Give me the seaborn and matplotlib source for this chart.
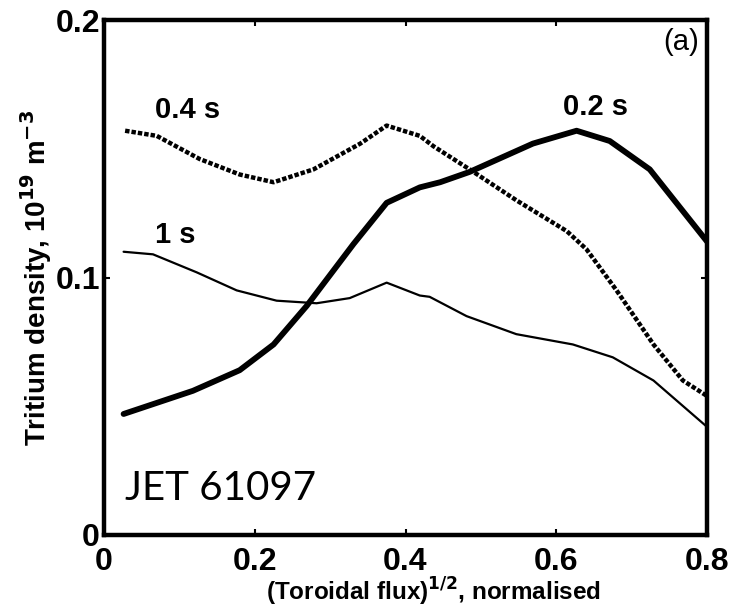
import numpy as np
import pandas as pd
import matplotlib
matplotlib.use("Agg")
import matplotlib.pyplot as plt
import seaborn as sns

# ---- data ----
x_02 = [0.026, 0.118, 0.180, 0.225, 0.269, 0.331, 0.375, 0.419, 0.446, 0.485, 0.569, 0.627, 0.671, 0.724, 0.800]
y_02 = [0.047, 0.056, 0.064, 0.074, 0.089, 0.113, 0.129, 0.135, 0.137, 0.141, 0.152, 0.157, 0.153, 0.142, 0.114]

x_04 = [0.028, 0.070, 0.127, 0.180, 0.225, 0.278, 0.340, 0.375, 0.419, 0.437, 0.485, 0.547, 0.614, 0.640, 0.680, 0.729, 0.768, 0.800]
y_04 = [0.157, 0.155, 0.146, 0.140, 0.137, 0.142, 0.152, 0.159, 0.155, 0.151, 0.142, 0.130, 0.118, 0.111, 0.095, 0.074, 0.060, 0.054]

x_1 = [0.026, 0.065, 0.123, 0.176, 0.229, 0.282, 0.326, 0.375, 0.419, 0.432, 0.481, 0.547, 0.622, 0.675, 0.729, 0.800]
y_1 = [0.110, 0.109, 0.102, 0.095, 0.091, 0.090, 0.092, 0.098, 0.093, 0.0925, 0.085, 0.078, 0.074, 0.069, 0.060, 0.042]

series_names = ["0.2 s", "0.4 s", "1 s"]
x_ticks = [0, 0.2, 0.4, 0.6, 0.8]
x_ticklabels = ["0", "0.2", "0.4", "0.6", "0.8"]
y_ticks = [0, 0.1, 0.2]
y_ticklabels = ["0", "0.1", "0.2"]

df = pd.concat([
    pd.DataFrame({"x": x_02, "y": y_02, "t": series_names[0]}),
    pd.DataFrame({"x": x_04, "y": y_04, "t": series_names[1]}),
    pd.DataFrame({"x": x_1, "y": y_1, "t": series_names[2]}),
], ignore_index=True)

sns.set_theme(style="white")
plt.rcParams["font.family"] = ["Liberation Sans", "DejaVu Sans"]
plt.rcParams["text.color"] = "black"
plt.rcParams["axes.labelcolor"] = "black"
plt.rcParams["xtick.color"] = "black"
plt.rcParams["ytick.color"] = "black"

fig = plt.figure(figsize=(7.42, 6.09), dpi=100)
ax = fig.add_axes([104/742, 1-535/609, (707-104)/742, (535-20)/609])

styles = {
    "0.2 s": dict(lw=4.2, ls="-"),
    "0.4 s": dict(lw=3.2, ls=(0, (1.0, 0.45))),
    "1 s": dict(lw=1.6, ls="-"),
}
for name in series_names:
    sub = df[df["t"] == name]
    sns.lineplot(data=sub, x="x", y="y", ax=ax, color="black", sort=False,
                 estimator=None, legend=False, **styles[name])

ax.set_xlim(0, 0.8)
ax.set_ylim(0, 0.2)
ax.set_xticks(x_ticks)
ax.set_xticklabels(x_ticklabels, fontsize=23, fontweight="bold")
ax.set_yticks(y_ticks)
ax.set_yticklabels(y_ticklabels, fontsize=23, fontweight="bold")
ax.tick_params(direction="in", length=4, width=1.5, top=True, right=True,
               bottom=True, left=True, colors="black")
ax.tick_params(axis="x", pad=9)
ax.tick_params(axis="y", pad=3)
for s in ax.spines.values():
    s.set_linewidth(3.2)
    s.set_color("black")

ax.set_xlabel(r"(Toroidal flux)$^{\mathbf{1/2}}$, normalised", fontsize=17.5,
              fontweight="bold")
ax.xaxis.set_label_coords(0.546, -0.08)
ax.set_ylabel(r"Tritium density, 10$^{\mathbf{19}}$ m$^{\mathbf{-3}}$", fontsize=20,
              fontweight="bold")
ax.yaxis.set_label_coords(-0.083, 0.5)

ax.text(0.068, 0.162, "0.4 s", fontsize=21, fontweight="bold", ha="left", va="baseline")
ax.text(0.068, 0.1134, "1 s", fontsize=21, fontweight="bold", ha="left", va="baseline")
ax.text(0.609, 0.163, "0.2 s", fontsize=21, fontweight="bold", ha="left", va="baseline")
ax.text(0.789, 0.197, "(a)", fontsize=21, ha="right", va="top")
ax.text(0.028, 0.0136, "JET 61097", fontsize=29, ha="left", va="baseline",
        family=["Lato", "DejaVu Sans"])

fig.savefig("out.png", dpi=100)
